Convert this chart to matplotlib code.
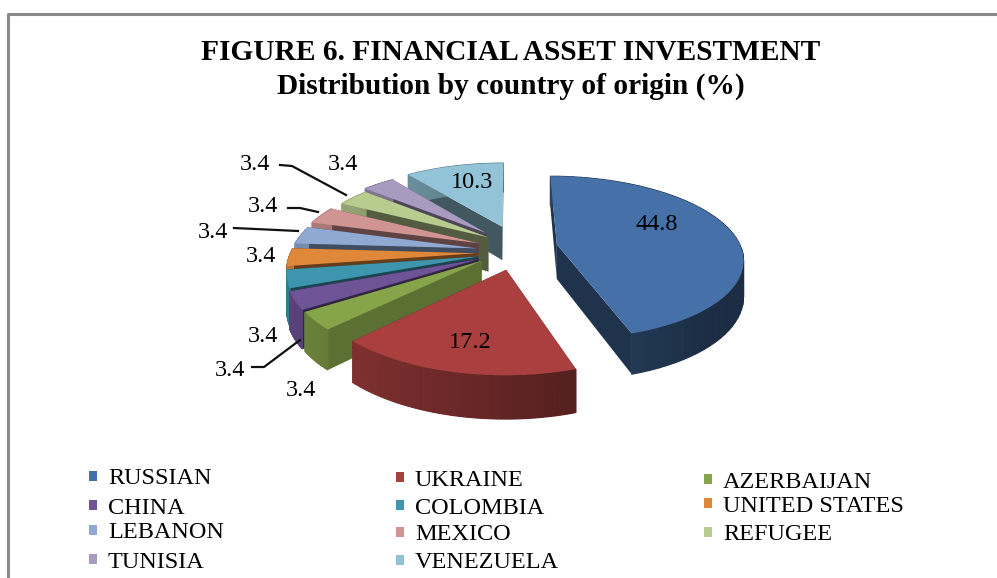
import numpy as np
import matplotlib
matplotlib.use("Agg")
import matplotlib.pyplot as plt
from matplotlib.patches import Polygon, Rectangle

plt.rcParams['font.family'] = ['Liberation Serif', 'DejaVu Serif']

countries = ['RUSSIAN', 'UKRAINE', 'AZERBAIJAN', 'CHINA', 'COLOMBIA', 'UNITED STATES',
             'LEBANON', 'MEXICO', 'REFUGEE', 'TUNISIA', 'VENEZUELA']
values = [44.8, 17.2, 3.4, 3.4, 3.4, 3.4, 3.4, 3.4, 3.4, 3.4, 10.3]
colors = ['#4571a8', '#a93f3f', '#86a44a', '#6e5397', '#3d96ae', '#e0883a',
          '#8fa9d3', '#d09492', '#b8cc8f', '#a99bbf', '#92c3d6']

# how far each slice was pulled out, in units of the pie radius
explode_x = [0.256, -0.020, -0.150, -0.166, -0.172, -0.179, -0.179, -0.170, -0.120, -0.132, -0.043]
explode_y = [-0.070, 0.235, 0.130, 0.110, 0.080, 0.040, -0.020, -0.085, -0.160, -0.215, -0.300]

CX, CY = 510, 250       # pie centre in pixels
RX, RY = 185, 81        # plane radii
PERSP = 0.163           # how much the front grows
THICK = 35
START = 0               # degrees clockwise from 12 o'clock


def project(px, py, h=0):
    scale = 1 / (1 - PERSP * py)
    return CX + RX * px * scale, CY + (RY * py + h) * scale


def shade(col, f):
    return tuple(c * f for c in matplotlib.colors.to_rgb(col))


fig = plt.figure(figsize=(9.97, 5.78), dpi=100)
ax = fig.add_axes([0, 0, 1, 1])
ax.set_xlim(0, 997)
ax.set_ylim(578, 0)
ax.axis('off')

# grey frame of the original page, open on the right
ax.plot([8, 8, 997], [578, 13.5, 13.5], color='#8a8a8a', lw=2.2, solid_capstyle='butt')

# slice angles from the values
fractions = np.array(values) / sum(values) * 360
ends = START + np.cumsum(fractions)
starts = ends - fractions
mids = (starts + ends) / 2

# back slices first
for i in np.argsort(-np.cos(np.radians(mids))):
    th = np.radians(np.linspace(starts[i], ends[i], 60))
    ox, oy = explode_x[i], explode_y[i]
    xs = ox + np.sin(th)
    ys = oy - np.cos(th)
    radial = 0.68 if countries[i] == 'AZERBAIJAN' else 0.45

    # radial walls
    for k in (0, -1):
        quad = [project(ox, oy), project(xs[k], ys[k]), project(xs[k], ys[k], THICK), project(ox, oy, THICK)]
        ax.add_patch(Polygon(quad, closed=True, fc=shade(colors[i], radial), ec='none'))

    # outer wall, darker towards the right
    for j in range(len(th) - 1):
        quad = [project(xs[j], ys[j]), project(xs[j + 1], ys[j + 1]),
                project(xs[j + 1], ys[j + 1], THICK), project(xs[j], ys[j], THICK)]
        f = np.clip(0.58 - 0.25 * np.sin(th[j]), 0.4, 0.85)
        ax.add_patch(Polygon(quad, closed=True, fc=shade(colors[i], f), ec=shade(colors[i], f), lw=0.8))

    top = [project(ox, oy)] + [project(a, b) for a, b in zip(xs, ys)]
    ax.add_patch(Polygon(top, closed=True, fc=colors[i], ec='none'))

# title
ax.text(511, 52, 'FIGURE 6. FINANCIAL ASSET INVESTMENT', ha='center', va='center',
        fontsize=21.2, fontweight='bold')
ax.text(511, 86, 'Distribution by country of origin (%)', ha='center', va='center',
        fontsize=21.2, fontweight='bold')

# data labels
label_pos = [(657, 225), (470, 343), (301, 390), (230, 370), (263, 337), (261, 256),
             (213, 232), (263, 206), (255, 165), (343, 164), (472, 183)]
for v, (x, y) in zip(values, label_pos):
    ax.text(x, y, str(v), ha='center', va='center', fontsize=17.5)

# leader lines
leaders = [[(280, 165), (292, 166), (346, 195)],
           [(288, 208), (300, 208), (318, 212)],
           [(234, 228), (298, 231)],
           [(252, 367), (264, 367), (300, 340)]]
for pts in leaders:
    ax.plot(*zip(*pts), color='#111111', lw=1.6)

# legend
legend_x = [108, 415, 723]
legend_y = [[479, 508, 533, 562], [480, 508, 535, 563], [482, 506, 535]]
for i, name in enumerate(countries):
    col, row = i % 3, i // 3
    x, y = legend_x[col], legend_y[col][row]
    ax.add_patch(Rectangle((x - 19, y - 8), 8, 10, fc=colors[i], ec='none'))
    ax.text(x, y, name, ha='left', va='center', fontsize=17.5)

fig.savefig('out.png', dpi=100)
